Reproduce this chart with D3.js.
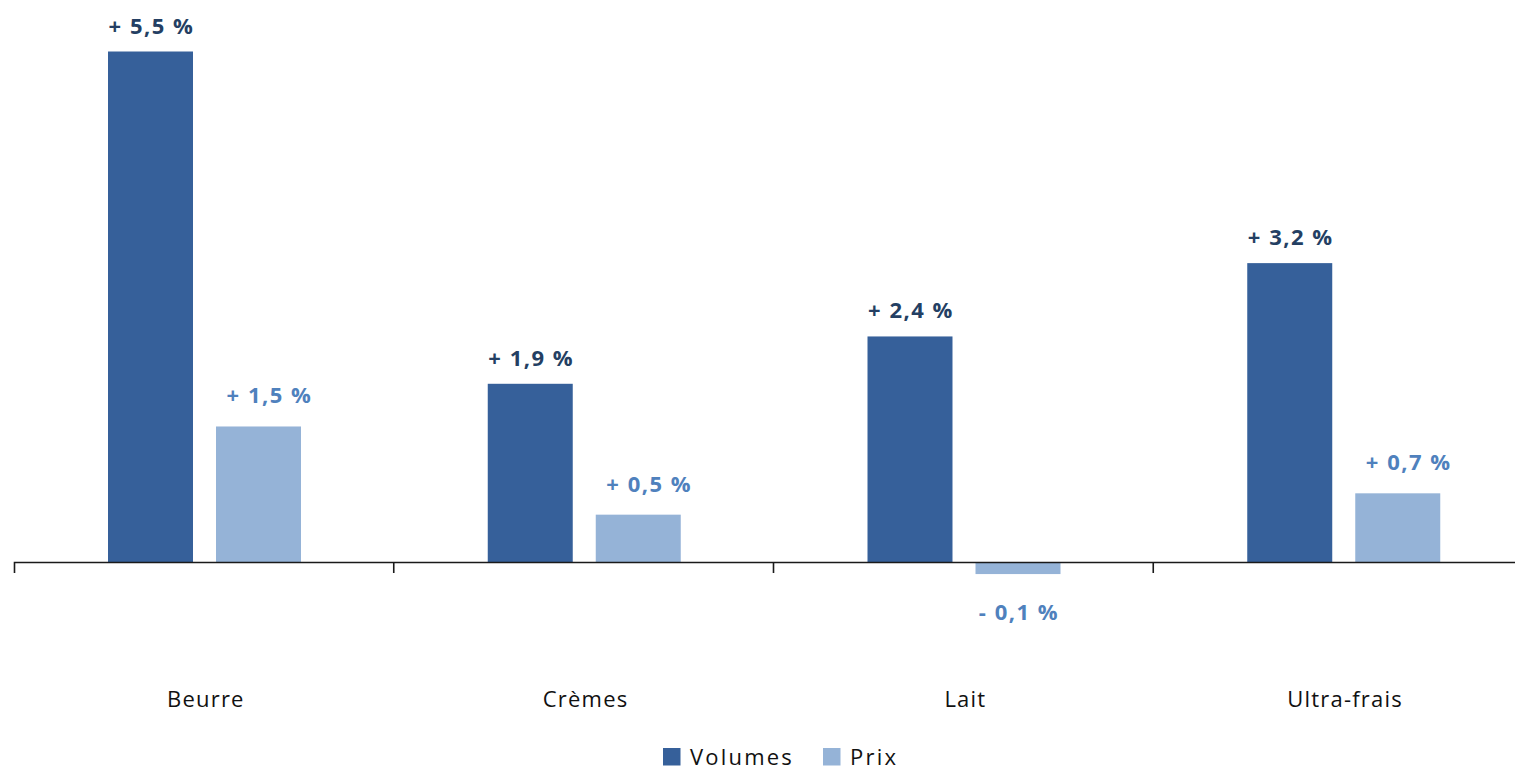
<!DOCTYPE html>
<html>
<head>
<meta charset="utf-8">
<script src="https://cdn.jsdelivr.net/npm/d3@7"></script>
<style>
  body { margin: 0; background: #fff; }
  svg { display: block; font-family: "Open Sans", "Lato", sans-serif; }
</style>
</head>
<body>
<svg id="chart"></svg>
<script>
const categories = ["Beurre", "Crèmes", "Lait", "Ultra-frais"];
const seriesNames = ["Volumes", "Prix"];
const volumes = [5.5, 1.92, 2.43, 3.22];
const prix = [1.46, 0.51, -0.13, 0.74];

const colors = { Volumes: "#36609a", Prix: "#95b3d7" };
const labelColors = { Volumes: "#243f63", Prix: "#4f81bd" };

const width = 1515, height = 772;
const svg = d3.select("#chart").attr("width", width).attr("height", height);

const x0 = d3.scaleBand().domain(categories).range([14, 1533]);
const x1 = d3.scaleBand().domain(seriesNames).range([94, 287]).paddingInner(0.213);
// zero at 562, 5.5 at ~51.5
const y = d3.scaleLinear().domain([0, 5.5]).range([562, 51.5]);

const rows = categories.map((c, i) => ({ cat: c, values: [
  { key: "Volumes", value: volumes[i] },
  { key: "Prix", value: prix[i] }
]}));

const fmt = v => {
  const s = Math.abs(v).toFixed(1).replace(".", ",");
  return (v < 0 ? "- " : "+ ") + s + " %";
};

const groups = svg.selectAll("g.grp").data(rows).join("g")
  .attr("class", "grp")
  .attr("transform", d => `translate(${x0(d.cat)},0)`);

groups.selectAll("rect").data(d => d.values).join("rect")
  .attr("x", d => x1(d.key))
  .attr("width", x1.bandwidth())
  .attr("y", d => y(Math.max(0, d.value)))
  .attr("height", d => Math.abs(y(d.value) - y(0)))
  .attr("fill", d => colors[d.key]);

groups.selectAll("text.val").data(d => d.values).join("text")
  .attr("class", "val")
  .attr("x", d => x1(d.key) + x1.bandwidth() / 2 + 1 + (d.key === "Prix" && d.value > 0 ? 10 : 0))
  .attr("y", d => d.value >= 0 ? y(d.value) - (d.key === "Prix" ? 23 : 18) : y(d.value) + 46)
  .attr("text-anchor", "middle")
  .attr("font-size", 22)
  .attr("font-weight", "bold")
  .attr("letter-spacing", "1.5px")
  .attr("fill", d => labelColors[d.key])
  .text(d => fmt(d.value));

// axis
const axis = svg.append("g")
  .attr("transform", `translate(0,${y(0)})`)
  .call(d3.axisBottom(x0).tickSize(0).tickSizeOuter(11).tickFormat(""));
axis.select(".domain").attr("stroke", "#1a1a1a").attr("stroke-width", 1.6);

svg.append("g").selectAll("line").data(categories.slice(1)).join("line")
  .attr("x1", d => x0(d)).attr("x2", d => x0(d))
  .attr("y1", y(0)).attr("y2", y(0) + 11)
  .attr("stroke", "#1a1a1a").attr("stroke-width", 1.6);

svg.append("g").selectAll("text").data(categories).join("text")
  .attr("x", d => x0(d) + x0.bandwidth() / 2 + 2)
  .attr("y", 707)
  .attr("text-anchor", "middle")
  .attr("font-size", 22)
  .attr("letter-spacing", "1.2px")
  .attr("fill", "#111")
  .text(d => d);

// legend
const legend = svg.append("g");
const legendX = { Volumes: 663, Prix: 823 };
const lg = legend.selectAll("g").data(seriesNames).join("g")
  .attr("transform", d => `translate(${legendX[d]},748)`);
lg.append("rect").attr("width", 17.5).attr("height", 17.5).attr("fill", d => colors[d]);
lg.append("text").attr("x", 27).attr("y", 17)
  .attr("font-size", 22).attr("letter-spacing", "2.2px")
  .attr("fill", "#111").text(d => d);
</script>
</body>
</html>
